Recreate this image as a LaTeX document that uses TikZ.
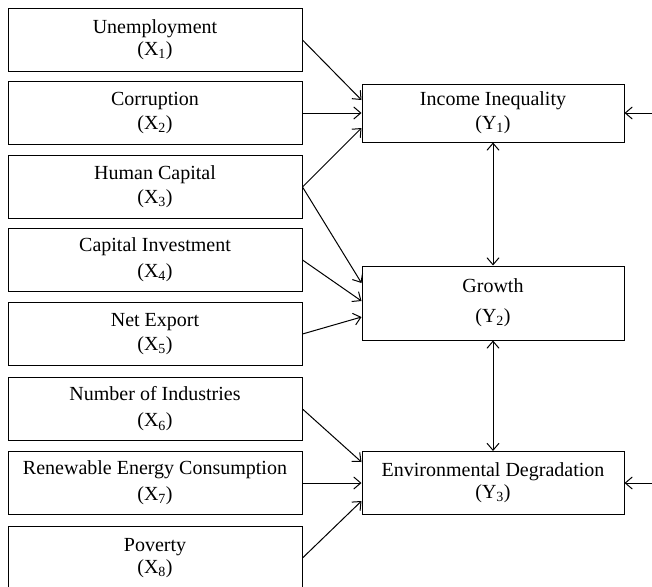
\documentclass[tikz,border=0pt]{standalone}
\usepackage{fontspec}
\setmainfont{Liberation Serif}
\usetikzlibrary{arrows.meta}

\begin{document}
\begin{tikzpicture}[x=1pt, y=-1pt, line width=1pt,
  >={Straight Barb[length=7pt,width=12pt]},
  var/.style={draw, minimum width=294pt, minimum height=63pt, inner sep=0pt,
    align=center, font=\fontsize{20}{22}\selectfont},
  dep/.style={var, minimum width=262pt}]
  \useasboundingbox (0,0) rectangle (652,586);
  % explanatory variables
  \node[var] (x1) at (155,40) {Unemployment\\(X\textsubscript{1})};
  \node[var] (x2) at (155,113) {Corruption\\[2pt](X\textsubscript{2})};
  \node[var] (x3) at (155,187) {Human Capital\\[2pt](X\textsubscript{3})};
  \node[var] (x4) at (155,260) {Capital Investment\\[4pt](X\textsubscript{4})};
  \node[var] (x5) at (155,334) {Net Export\\[2pt](X\textsubscript{5})};
  \node[var] (x6) at (155,409) {Number of Industries\\[4pt](X\textsubscript{6})};
  \node[var] (x7) at (155,483) {Renewable Energy Consumption\\[4pt](X\textsubscript{7})};
  \node[var] (x8) at (155,558) {Poverty\\(X\textsubscript{8})};
  % dependent variables
  \node[dep, minimum height=58pt] (y1) at (493,113) {Income Inequality\\[2pt](Y\textsubscript{1})};
  \node[dep, minimum height=74pt] (y2) at (493,303) {Growth\\[8pt](Y\textsubscript{2})};
  \node[dep] (y3) at (493,483) {Environmental Degradation\\(Y\textsubscript{3})};
  \coordinate (r1) at (652,113);
  \coordinate (r3) at (652,483);
  \path[->]
  (x1.east) edge ([yshift=13pt]y1.west)
  (x2.east) edge (y1.west)
  (x3.east) edge ([yshift=-15pt]y1.west)
  (x3.east) edge ([yshift=20pt]y2.west)
  (x4.east) edge ([yshift=2pt]y2.west)
  (x5.east) edge ([yshift=-14pt]y2.west)
  (x6.east) edge ([yshift=21pt]y3.west)
  (x7.east) edge (y3.west)
  (x8.east) edge ([yshift=-18pt]y3.west)
  (r1) edge (y1.east)
  (r3) edge (y3.east);
  \path[<->]
  (y1) edge (y2)
  (y2) edge (y3);
\end{tikzpicture}
\end{document}
